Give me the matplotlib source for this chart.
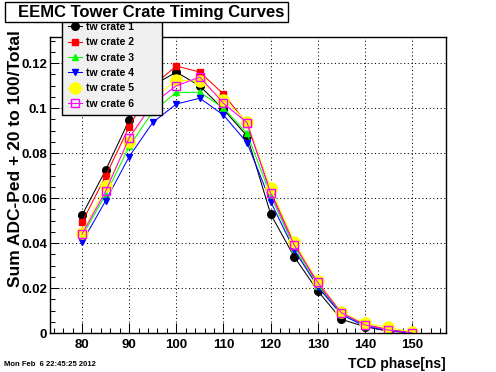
import numpy as np
import matplotlib
matplotlib.use("Agg")
import matplotlib.pyplot as plt
from matplotlib.patches import Rectangle
from matplotlib.ticker import MultipleLocator

plt.rcParams["font.family"] = ["Liberation Sans", "DejaVu Sans"]
plt.rcParams["font.weight"] = "bold"

phase = [80, 85, 90, 95, 100, 105, 110, 115, 120, 125, 130, 135, 140, 145, 150]
crate1 = [0.0524, 0.0724, 0.0947, 0.1100, 0.1160, 0.1098, 0.0994, 0.0876, 0.0529,
          0.0339, 0.0187, 0.0061, 0.0028, 0.0008, 0.0001]
crate2 = [0.0492, 0.0698, 0.0917, 0.1100, 0.1187, 0.1160, 0.1062, 0.0930, 0.0630,
          0.0400, 0.0215, 0.0088, 0.0038, 0.0015, 0.0003]
crate3 = [0.0430, 0.0615, 0.0830, 0.0984, 0.1070, 0.1070, 0.1000, 0.0888, 0.0610,
          0.0380, 0.0210, 0.0085, 0.0032, 0.0012, 0.0002]
crate4 = [0.0403, 0.0588, 0.0784, 0.0936, 0.1018, 0.1044, 0.0969, 0.0846, 0.0584,
          0.0369, 0.0205, 0.0082, 0.0030, 0.0010, 0.0002]
crate5 = [0.0443, 0.0652, 0.0850, 0.1040, 0.1124, 0.1120, 0.1038, 0.0940, 0.0643,
          0.0406, 0.0231, 0.0093, 0.0043, 0.0025, 0.0004]
crate6 = [0.0440, 0.0630, 0.0868, 0.1020, 0.1099, 0.1138, 0.1021, 0.0935, 0.0621,
          0.0391, 0.0225, 0.0090, 0.0036, 0.0013, 0.0001]

labels = ["tw crate 1", "tw crate 2", "tw crate 3", "tw crate 4", "tw crate 5", "tw crate 6"]

fig = plt.figure(figsize=(4.96, 3.72), dpi=100)
fig.patch.set_facecolor("white")
ax = fig.add_axes([50 / 496, 39 / 372, 396 / 496, 296 / 372])

lw = 0.75
ax.plot(phase, crate1, color="black", lw=lw, marker="o", ms=5.5, label=labels[0])
ax.plot(phase, crate2, color="#ff0000", lw=lw, marker="s", ms=4.8, label=labels[1])
ax.plot(phase, crate3, color="#00ff00", lw=lw, marker="^", ms=4.5, label=labels[2])
ax.plot(phase, crate4, color="#0000ff", lw=lw, marker="v", ms=5, label=labels[3])
ax.plot(phase, crate5, color="#ffff00", lw=lw, marker="o", ms=8, label=labels[4])
ax.plot(phase, crate6, color="#ff00ff", lw=lw, marker="s", ms=6, mfc="none", mew=1,
        label=labels[5])

ax.set_xlim(73.2, 157.2)
ax.set_ylim(0, 0.1316)
ax.xaxis.set_major_locator(MultipleLocator(10))
ax.xaxis.set_minor_locator(MultipleLocator(2))
ax.yaxis.set_major_locator(MultipleLocator(0.02))
ax.yaxis.set_minor_locator(MultipleLocator(0.005))
ax.yaxis.set_major_formatter(plt.FuncFormatter(lambda v, p: "0" if v == 0 else f"{v:g}"))

ax.tick_params(axis="x", which="major", direction="in", length=7, width=0.75,
               labelsize=9.5, pad=4)
ax.tick_params(axis="x", which="minor", direction="in", length=3.5, width=0.75)
ax.tick_params(axis="y", which="major", direction="in", length=6.5, width=0.75,
               labelsize=9.5, pad=2)
ax.tick_params(axis="y", which="minor", direction="in", length=3.5, width=0.75)
for t in ax.get_xticklabels() + ax.get_yticklabels():
    t.set_fontweight("bold")

ax.grid(True, which="major", color="black", lw=0.75, linestyle=(0, (1, 2.5)))
ax.set_axisbelow(True)
for s in ax.spines.values():
    s.set_linewidth(1.0)
    s.set_color("black")

leg = ax.legend(loc="upper left",
                bbox_to_anchor=(62 / 496, 1 - 112 / 372, 100 / 496, 96 / 372),
                bbox_transform=fig.transFigure, mode="expand", fontsize=7.5,
                frameon=True, fancybox=False, edgecolor="black", facecolor="#f0f0f0",
                framealpha=1, borderaxespad=0, handlelength=1.4, handletextpad=0.35,
                labelspacing=0.52, borderpad=0.55)
leg.get_frame().set_linewidth(1.0)
leg.set_zorder(10)
for t in leg.get_texts():
    t.set_fontweight("bold")

# title box
fig.add_artist(Rectangle((5 / 496, 1 - 22 / 372), 283 / 496, 20 / 372,
                         transform=fig.transFigure, facecolor="white",
                         edgecolor="black", lw=1.0, zorder=5))
fig.text(151 / 496, 1 - 12 / 372, "EEMC Tower Crate Timing Curves", ha="center",
         va="center", fontsize=12.0, fontweight="bold", zorder=6)

fig.text(16 / 496, 1 - 30 / 372, "Sum ADC-Ped + 20 to 100/Total", rotation=90,
         ha="center", va="top", fontsize=12.5, fontweight="bold")
fig.text(446 / 496, 4 / 372, "TCD phase[ns]", ha="right", va="baseline",
         fontsize=10, fontweight="bold")
fig.text(4 / 496, 5.5 / 372, "Mon Feb  6 22:45:25 2012", ha="left", va="baseline",
         fontsize=5.5, fontweight="bold")

fig.savefig("out.png", dpi=100)
plt.close(fig)
